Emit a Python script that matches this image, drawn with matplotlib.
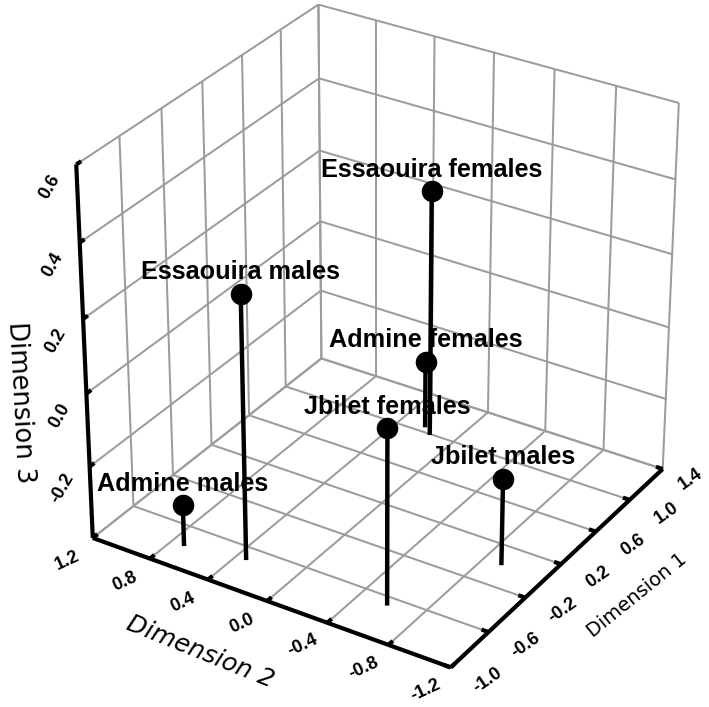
import matplotlib
matplotlib.use("Agg")
import matplotlib.pyplot as plt
from mpl_toolkits.mplot3d import proj3d

names = ["Admine males", "Essaouira males", "Jbilet females", "Jbilet males", "Admine females", "Essaouira females"]
dim1 = [-0.79, -0.72, -0.68, 0.01, 1.05, 0.99]
dim2 = [0.71, 0.33, -0.59, -0.92, 0.23, 0.16]
dim3 = [-0.285, 0.32, 0.08, -0.16, -0.21, 0.285]

ticks1 = [-1.0, -0.6, -0.2, 0.2, 0.6, 1.0, 1.4]
ticks2 = [-1.2, -0.8, -0.4, 0.0, 0.4, 0.8, 1.2]
ticks3 = [-0.4, -0.2, 0.0, 0.2, 0.4, 0.6]

GREY = "#9c9c9c"
W, H, DPI = 709, 707, 100

fig = plt.figure(figsize=(W / DPI, H / DPI), dpi=DPI)
ax = fig.add_axes([14.97 / W, (H - 690.3) / H, 714.8 / W, 714.8 / H], projection="3d")
ax.set_xlim(-1.0, 1.4)
ax.set_ylim(-1.2, 1.2)
ax.set_zlim(-0.4, 0.6)
ax.view_init(elev=29.95, azim=-147.737, roll=-0.044)
ax.set_proj_type("persp", focal_length=0.989)
ax.set_box_aspect((1, 1.001, 1.005))
ax.set_axis_off()
ax.patch.set_alpha(0)
ax.computed_zorder = False
M = ax.get_proj()
x0, x1 = ticks1[0], ticks1[-1]
y0, y1 = ticks2[0], ticks2[-1]
z0, z1 = ticks3[0], ticks3[-1]


def line(xs, ys, zs, color=GREY, lw=1.45, z=1):
    ax.plot(xs, ys, zs, color=color, lw=lw, zorder=z, solid_capstyle="butt")


def label(x, y, z, text, dx, dy, **kw):
    # Text3D drops rotation, so project the anchor and annotate in 2D
    px, py, _ = proj3d.proj_transform(x, y, z, M)
    ax.annotate(text, xy=(px, py), xycoords="data", xytext=(dx, dy), textcoords="offset pixels",
                ha="center", va="center", family="Liberation Sans", annotation_clip=False, **kw)


# floor and the two back walls
for t in ticks1:
    line([t, t], [y0, y1], [z0, z0])
    line([t, t], [y1, y1], [z0, z1])
for t in ticks2:
    line([x0, x1], [t, t], [z0, z0])
    line([x1, x1], [t, t], [z0, z1])
for t in ticks3:
    line([x0, x1], [y1, y1], [t, t])
    line([x1, x1], [y0, y1], [t, t])

# heavy axes with short tick stubs
line([x0, x0], [y1, y1], [z0, z1], "black", 3.0, 2)
line([x0, x0], [y0, y1], [z0, z0], "black", 3.0, 2)
line([x0, x1], [y0, y0], [z0, z0], "black", 3.0, 2)
for t in ticks3:
    line([x0, x0 + 0.045], [y1, y1], [t, t], "black", 3.0, 2)
for t in ticks2:
    line([x0, x0 + 0.045], [t, t], [z0, z0], "black", 3.0, 2)
for t in ticks1:
    line([t, t], [y0, y0 + 0.045], [z0, z0], "black", 3.0, 2)

TICK = dict(fontsize=13, fontweight="bold", zorder=5)
for t in ticks2:
    label(x0, t, z0, f"{t:.1f}", -25, -23, rotation=25, **TICK)
for t in ticks1:
    # the last label sits closer so it stays inside the figure
    dx, dy = (28, -10) if t == x1 else (37, -13)
    label(t, y0, z0, f"{t:.1f}", dx, dy, rotation=35, **TICK)
for t in ticks3[1:]:
    label(x0, y1, t, f"{t:.1f}", -27, -22, rotation=60, **TICK)

fig.text(200 / W, 1 - 652 / H, "Dimension 2", rotation=-22, rotation_mode="anchor", ha="center", va="center",
         family="DejaVu Sans", fontsize=18, fontstyle="italic")
fig.text(637 / W, 1 - 595 / H, "Dimension 1", rotation=39, rotation_mode="anchor", ha="center", va="center",
         family="DejaVu Sans", fontsize=14)
fig.text(20 / W, 1 - 403 / H, "Dimension 3", rotation=-87, rotation_mode="anchor", ha="center", va="center",
         family="DejaVu Sans", fontsize=18.5)

# stems, balls and labels
for name, a, b, c in zip(names, dim1, dim2, dim3):
    line([a, a], [b, b], [z0, c], "black", 3.2, 3)
    ax.plot([a], [b], [c], "o", color="black", ms=15.5, mew=0, zorder=4)
    label(a, b, c, name, 0, 21.5, fontsize=18.2, fontweight="bold", zorder=6)

fig.savefig("out.png", dpi=DPI)
